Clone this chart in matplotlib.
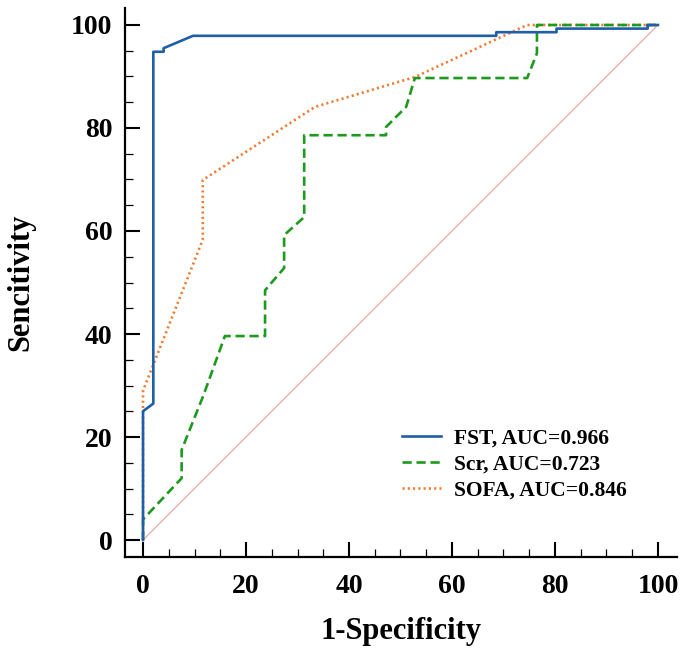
import matplotlib
matplotlib.use("Agg")
import matplotlib.pyplot as plt
from matplotlib.ticker import MultipleLocator

plt.rcParams['font.family'] = ['Liberation Serif', 'DejaVu Serif']
plt.rcParams['font.weight'] = 'bold'

# Data (1-Specificity %, Sensitivity %)
fst_x = [0, 0, 2, 2, 4, 4, 9.7, 68.6, 68.6, 80.3, 80.3, 98, 98, 100]
fst_y = [0, 25, 26.5, 94.8, 94.8, 95.5, 97.9, 97.9, 98.6, 98.6, 99.3, 99.3, 100, 100]

scr_x = [0, 0, 7.5, 7.5, 11.7, 15.9, 23.7, 23.7, 27.4, 27.4, 31.3, 31.3, 47.2, 47.2, 51.1, 52.8, 74.6, 76.5, 76.5, 100]
scr_y = [0, 4, 12, 17.5, 28, 39.6, 39.6, 48.5, 52.8, 59.2, 62.7, 78.6, 78.6, 80.2, 84.1, 89.7, 89.7, 94.5, 100, 100]

sofa_x = [0, 0, 11.6, 11.6, 33.4, 52.8, 74.6, 100]
sofa_y = [0, 29, 58.3, 69.9, 84.1, 89.9, 100, 100]

labels = ['FST, AUC=0.966', 'Scr, AUC=0.723', 'SOFA, AUC=0.846']
x_ticks = [0, 20, 40, 60, 80, 100]
y_ticks = [0, 20, 40, 60, 80, 100]

fig = plt.figure(figsize=(6.85, 6.53), dpi=100)
ax = fig.add_axes([125/685, 1-557/653, (677-125)/685, (557-8)/653])

ax.plot([0, 100], [0, 100], color='#e8a0a0', lw=0.8, zorder=1)
ax.plot(fst_x, fst_y, color='#1f5ea8', lw=1.9, ls='-', label=labels[0], zorder=4)
ax.plot(scr_x, scr_y, color='#1d9a1d', lw=1.9, ls=(0, (3.5, 1.8)), label=labels[1], zorder=3)
ax.plot(sofa_x, sofa_y, color='#ee7d31', lw=1.9, ls=(0, (0.8, 1.2)), label=labels[2], zorder=2)

ax.set_xlim(-3.5, 103.7)
ax.set_ylim(-3.3, 103.3)
ax.spines['top'].set_visible(False)
ax.spines['right'].set_visible(False)
for s in ['left', 'bottom']:
    ax.spines[s].set_linewidth(1.6)

ax.set_xticks(x_ticks)
ax.set_yticks(y_ticks)
ax.xaxis.set_minor_locator(MultipleLocator(5))
ax.yaxis.set_minor_locator(MultipleLocator(5))
ax.tick_params(which='major', direction='in', length=11, width=1.5, labelsize=20)
ax.tick_params(axis='x', which='major', pad=12)
ax.tick_params(axis='y', which='major', pad=9)
ax.tick_params(which='minor', direction='in', length=6, width=0.9)
for t in ax.get_xticklabels() + ax.get_yticklabels():
    t.set_fontweight('bold')

ax.set_xlabel('1-Specificity', fontsize=22, fontweight='bold', labelpad=13)
ax.set_ylabel('Sencitivity', fontsize=22, fontweight='bold', labelpad=26)

leg = ax.legend(loc='center left', bbox_to_anchor=(0.502, 0.168), frameon=False,
                prop={'size': 15.5, 'weight': 'bold'}, handlelength=1.8,
                handletextpad=0.6, labelspacing=0.28, borderpad=0, borderaxespad=0)

fig.savefig('out.png', dpi=100)
